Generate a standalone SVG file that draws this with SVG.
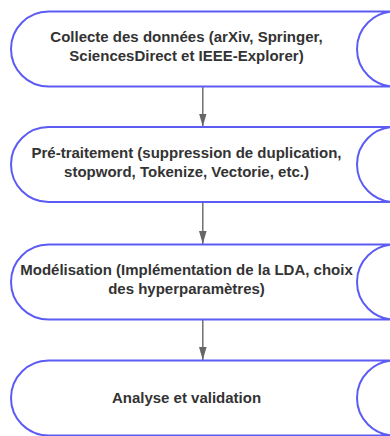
<svg xmlns="http://www.w3.org/2000/svg" width="390" height="436" viewBox="0 0 390 436">
  <style>
    .shape { fill: #ffffff; stroke: #5c5cf5; stroke-width: 2; }
    .label { font-family: "Liberation Sans", Arial, sans-serif; font-size: 15px; font-weight: bold; fill: #333333; text-anchor: middle; }
    .conn { stroke: #666666; stroke-width: 1.4; fill: none; marker-end: url(#arrow); }
  </style>
  <defs>
    <marker id="arrow" viewBox="0 0 13 8" refX="13" refY="4" markerWidth="13" markerHeight="8" markerUnits="userSpaceOnUse" orient="auto">
      <path d="M0,0.2 L13,4 L0,7.8 Z" fill="#666666"/>
    </marker>
  </defs>
  <g id="connectors">
    <line class="conn" x1="202.8" y1="86.5" x2="202.8" y2="126.5"/>
    <line class="conn" x1="202.8" y1="202" x2="202.8" y2="244"/>
    <line class="conn" x1="202.8" y1="319.5" x2="202.8" y2="360"/>
  </g>
  <g id="node-collecte">
    <path class="shape" d="M48.5,11.5 H394.5 A37.5,37.5 0 0 0 394.5,86.5 H48.5 A37.5,37.5 0 0 1 48.5,11.5 Z"/>
    <text class="label" x="186.5" y="42.3">Collecte des données (arXiv, Springer,</text>
    <text class="label" x="186.5" y="61">SciencesDirect et IEEE-Explorer)</text>
  </g>
  <g id="node-pretraitement">
    <path class="shape" d="M48.5,127 H394.5 A37.5,37.5 0 0 0 394.5,202 H48.5 A37.5,37.5 0 0 1 48.5,127 Z"/>
    <text class="label" x="186.5" y="158.2">Pré-traitement (suppression de duplication,</text>
    <text class="label" x="186.5" y="176.9">stopword, Tokenize, Vectorie, etc.)</text>
  </g>
  <g id="node-modelisation">
    <path class="shape" d="M48.5,244.5 H394.5 A37.5,37.5 0 0 0 394.5,319.5 H48.5 A37.5,37.5 0 0 1 48.5,244.5 Z"/>
    <text class="label" x="186.5" y="275.4">Modélisation (Implémentation de la LDA, choix</text>
    <text class="label" x="186.5" y="294.1">des hyperparamètres)</text>
  </g>
  <g id="node-analyse">
    <path class="shape" d="M48.5,360.5 H394.5 A37.5,37.5 0 0 0 394.5,435.5 H48.5 A37.5,37.5 0 0 1 48.5,360.5 Z"/>
    <text class="label" x="186.5" y="402.7">Analyse et validation</text>
  </g>
</svg>
